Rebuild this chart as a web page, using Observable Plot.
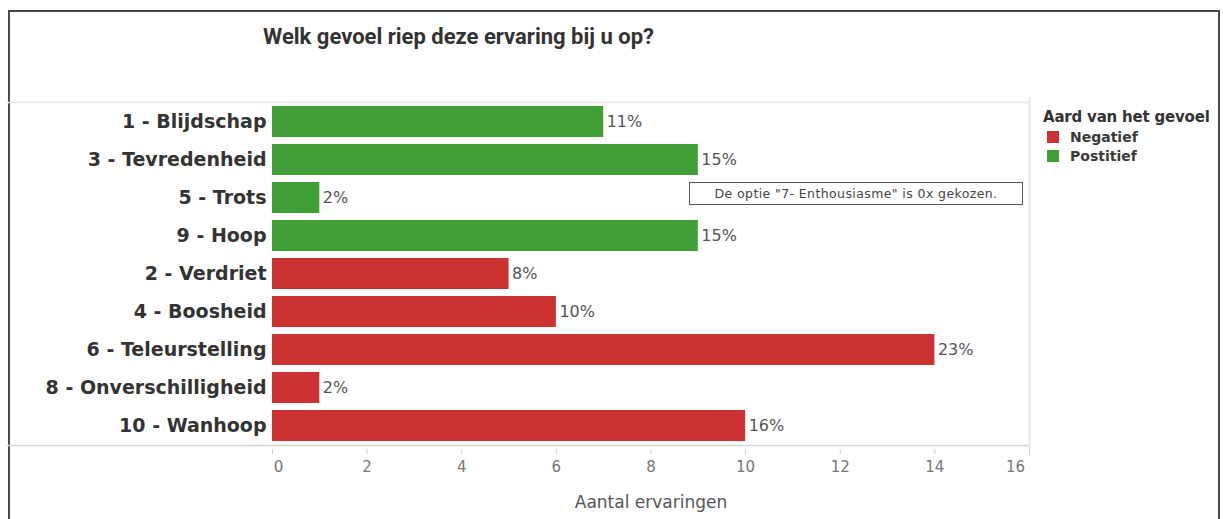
<!DOCTYPE html>
<html>
<head>
<meta charset="utf-8">
<script src="https://cdn.jsdelivr.net/npm/d3@7"></script>
<script src="https://cdn.jsdelivr.net/npm/@observablehq/plot@0.6"></script>
<style>
  html, body { margin: 0; padding: 0; background: #fff; }
  #wrap { position: relative; width: 1223px; height: 519px; overflow: hidden; font-family: "DejaVu Sans", sans-serif; }
  #frame { position: absolute; left: 8px; top: 10px; width: 1212px; height: 520px; border: 2px solid #4a4a4a; border-bottom: none; box-sizing: border-box; }
  #title { position: absolute; left: 263px; top: 24px; font-family: Roboto, sans-serif; font-size: 22px; font-weight: 700; color: #333; }
  #chart { position: absolute; left: 0; top: 0; }
  #legend { position: absolute; left: 1043px; top: 108px; color: #333; }
  #legend .lt { font-size: 15px; font-weight: 700; margin-bottom: 1px; letter-spacing: -0.2px; }
  #legend .it { font-size: 14px; font-weight: 700; display: flex; align-items: center; height: 19px; margin-left: 4px; color: #3a3a3a; }
  #legend .sw { width: 12px; height: 12px; margin-right: 11px; }
  #note { position: absolute; left: 689px; top: 182px; width: 334px; height: 23px; border: 1.5px solid #555; box-sizing: border-box; background: #fff; font-size: 12.5px; letter-spacing: 0.4px; color: #444; display: flex; align-items: center; justify-content: center; }
</style>
</head>
<body>
<div id="wrap">
  <div id="frame"></div>
  <div id="chart"></div>
  <div id="title">Welk gevoel riep deze ervaring bij u op?</div>
  <div id="legend"></div>
  <div id="note">De optie "7- Enthousiasme" is 0x gekozen.</div>
</div>
<script>
const categories = ["1 - Blijdschap", "3 - Tevredenheid", "5 - Trots", "9 - Hoop", "2 - Verdriet", "4 - Boosheid", "6 - Teleurstelling", "8 - Onverschilligheid", "10 - Wanhoop"];
const counts = [7, 9, 1, 9, 5, 6, 14, 1, 10];
const percentLabels = ["11%", "15%", "2%", "15%", "8%", "10%", "23%", "2%", "16%"];
const kinds = ["Postitief", "Postitief", "Postitief", "Postitief", "Negatief", "Negatief", "Negatief", "Negatief", "Negatief"];
const legendKinds = ["Negatief", "Postitief"];
const legendColors = ["#cc3232", "#3f9e35"];
const xTicks = [0, 2, 4, 6, 8, 10, 12, 14, 16];

const data = categories.map((c, i) => ({cat: c, n: counts[i], pct: percentLabels[i], kind: kinds[i]}));

const chart = Plot.plot({
  width: 1223,
  height: 519,
  marginLeft: 272,
  marginRight: 194,
  marginTop: 97,
  marginBottom: 70,
  style: {fontFamily: "'DejaVu Sans', sans-serif", background: "transparent"},
  x: {domain: [0, 16], ticks: xTicks, axis: null},
  y: {domain: categories, padding: 0.19, axis: null},
  color: {domain: legendKinds, range: legendColors},
  marks: [
    Plot.ruleY([0], {y: () => categories[categories.length - 1], x1: -5.6, x2: 16, stroke: "#d6d6d6", strokeWidth: 1.5, dy: 19.6, clip: false}),
    Plot.ruleY([0], {y: () => categories[0], x1: -5.6, x2: 16, stroke: "#e6e6e6", strokeWidth: 1.5, dy: -19.6, clip: false}),
    Plot.ruleX([16], {stroke: "#e2e2e2", strokeWidth: 1.5}),
    Plot.barX(data, {x: "n", y: "cat", fill: "kind"}),
    Plot.text(data, {x: "n", y: "cat", text: "pct", textAnchor: "start", dx: 3, fontSize: 16, fill: "#555"}),
    Plot.axisY({tickSize: 0, tickPadding: 6, fontSize: 19, fontWeight: 700, fill: "#333", label: null}),
    Plot.axisX({ticks: xTicks, tickSize: 5, stroke: "#d0d0d0", tickFormat: () => "", label: null}),
    Plot.text(xTicks.filter(d => d > 0 && d < 16), {x: d => d, frameAnchor: "bottom", dy: 22, fontSize: 15, fill: "#777", text: d => String(d)}),
    Plot.text([0], {x: d => d, frameAnchor: "bottom", dy: 22, dx: 6, fontSize: 15, fill: "#777", text: d => String(d)}),
    Plot.text([16], {x: d => d, frameAnchor: "bottom", dy: 22, dx: -14, fontSize: 15, fill: "#777", text: d => String(d)}),
    Plot.text(["Aantal ervaringen"], {x: 8, frameAnchor: "bottom", dy: 58, fontSize: 17, fill: "#555", text: d => d})
  ]
});
document.getElementById("chart").appendChild(chart);

const lg = document.getElementById("legend");
const t = document.createElement("div");
t.className = "lt";
t.textContent = "Aard van het gevoel";
lg.appendChild(t);
legendKinds.forEach((k, i) => {
  const row = document.createElement("div");
  row.className = "it";
  const sw = document.createElement("div");
  sw.className = "sw";
  sw.style.background = legendColors[i];
  const lab = document.createElement("span");
  lab.textContent = k;
  row.appendChild(sw);
  row.appendChild(lab);
  lg.appendChild(row);
});
</script>
</body>
</html>
